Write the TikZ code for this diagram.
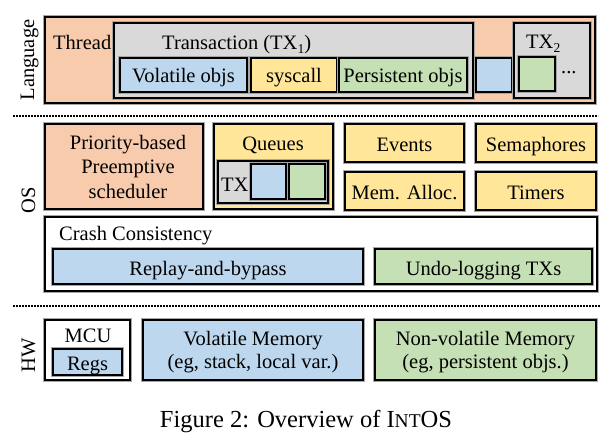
\documentclass[tikz,border=0pt]{standalone}
\usepackage{fontspec}
\setmainfont{Liberation Serif}
\usetikzlibrary{fit}
\definecolor{cpeach}{HTML}{F8CBAD}
\definecolor{cgray}{HTML}{D9D9D9}
\definecolor{cblue}{HTML}{BDD7EE}
\definecolor{cyellow}{HTML}{FFE699}
\definecolor{cgreen}{HTML}{C5E0B4}
\newcommand\mysub[1]{\raisebox{-0.22em}{\fontsize{13.5}{14}\selectfont #1}}
\tikzset{
  box/.style={draw=black, line width=1.8pt, inner sep=0pt,
    preaction={draw=black!35, line width=3.2pt}},
  lbl/.style={font=\fontsize{20.5}{24.5}\selectfont, inner sep=0pt},
  ctr/.style={lbl, anchor=base},
  lft/.style={lbl, anchor=base west},
  dotline/.style={line width=1.8pt, dash pattern=on 1.6pt off 1.4pt},
  side/.style={lbl, rotate=90, anchor=base}
}
\begin{document}
\begin{tikzpicture}[x=1pt,y=-1pt]
\useasboundingbox[fill=white] (0,0) rectangle (615,440);
% ---------- Language ----------
\node[side] (lang) at (34,60) {Language};
\node[box, fill=cpeach, fit={(45,17)(595,103)}] (thread) {};
\node[lft] (threadt) at (53,49) {Thread};
\node[box, fill=cgray, fit={(114,23)(473,98)}] (tx1) {};
\node[lft] (tx1t) at (162,49) {Transaction (TX\mysub{1})};
\node[box, fill=cblue, fit={(120,58)(247,92)}] (volobj) {};
\node[ctr] (volobjt) at (183.5,82.5) {Volatile objs};
\node[box, fill=cyellow, fit={(251,58)(337,92)}] (syscall) {};
\node[ctr] (syscallt) at (294,82.5) {syscall};
\node[box, fill=cgreen, fit={(339,58)(467,92)}] (persobj) {};
\node[ctr] (persobjt) at (403,82.5) {Persistent objs};
\node[box, fill=cblue, fit={(476,58)(512,92)}] (thrblue) {};
\node[box, fill=cgray, fit={(514,23)(590,98)}] (tx2) {};
\node[lft] (tx2t) at (526,48) {TX\mysub{2}};
\node[box, fill=cgreen, fit={(519,57)(555,91)}] (tx2green) {};
\node[lft] (dots) at (561,73) {...};
% dotted separator
\coordinate (d1a) at (13,116);
\coordinate (d1b) at (598,116);
\draw[dotline] (d1a) -- (d1b);
% ---------- OS ----------
\node[side] (os) at (35,200) {OS};
\node[box, fill=cpeach, fit={(45,124)(203,209)}] (prio) {};
\node[ctr] (priot1) at (128,149) {Priority-based};
\node[ctr] (priot2) at (128,173.5) {Preemptive};
\node[ctr] (priot3) at (128,198) {scheduler};
\node[box, fill=cyellow, fit={(214,124)(333,209)}] (queues) {};
\node[ctr] (queuest) at (273,150) {Queues};
\node[box, fill=cgray, fit={(218,161)(328,203)}] (qtx) {};
\node[lft] (qtxt) at (221,191.5) {TX};
\node[box, fill=cblue, fit={(251,164)(286,199)}] (qblue) {};
\node[box, fill=cgreen, fit={(289,164)(325,199)}] (qgreen) {};
\node[box, fill=cyellow, fit={(345,124)(464,162)}] (events) {};
\node[ctr] (eventst) at (404.5,151.5) {Events};
\node[box, fill=cyellow, fit={(476,124)(596,162)}] (sema) {};
\node[ctr] (semat) at (536,151.5) {Semaphores};
\node[box, fill=cyellow, fit={(345,172)(464,210)}] (memal) {};
\node[ctr] (memalt) at (404.5,199.5) {Mem. Alloc.};
\node[box, fill=cyellow, fit={(476,172)(596,210)}] (timers) {};
\node[ctr] (timerst) at (536,199.5) {Timers};
\node[box, fill=white, fit={(45,217)(597,291)}] (crash) {};
\node[lft] (crasht) at (59,240.5) {Crash Consistency};
\node[box, fill=cblue, fit={(53,249)(363,284)}] (replay) {};
\node[ctr] (replayt) at (208,275) {Replay-and-bypass};
\node[box, fill=cgreen, fit={(375,249)(592,284)}] (undo) {};
\node[ctr] (undot) at (483.5,275) {Undo-logging TXs};
% dotted separator
\coordinate (d2a) at (13,306);
\coordinate (d2b) at (600,306);
\draw[dotline] (d2a) -- (d2b);
% ---------- HW ----------
\node[side] (hw) at (35,355) {HW};
\node[box, fill=white, fit={(45,320)(130,380)}] (mcu) {};
\node[ctr] (mcut) at (88,342.5) {MCU};
\node[box, fill=cblue, fit={(53,349)(122,375)}] (regs) {};
\node[ctr] (regst) at (87.5,370) {Regs};
\node[box, fill=cblue, fit={(143,320)(363,380)}] (volmem) {};
\node[ctr] (volmemt1) at (253,345) {Volatile Memory};
\node[ctr] (volmemt2) at (253,368) {(eg, stack, local var.)};
\node[box, fill=cgreen, fit={(375,320)(596,380)}] (nvmem) {};
\node[ctr] (nvmemt1) at (485.5,345) {Non-volatile Memory};
\node[ctr] (nvmemt2) at (485.5,368) {(eg, persistent objs.)};
% caption
\node[anchor=base, inner sep=0pt, font=\fontsize{24.5}{28}\selectfont] (cap) at (306,427)
  {Figure 2: Overview of I{\fontsize{19.5}{20}\selectfont NT}OS};
\end{tikzpicture}
\end{document}
